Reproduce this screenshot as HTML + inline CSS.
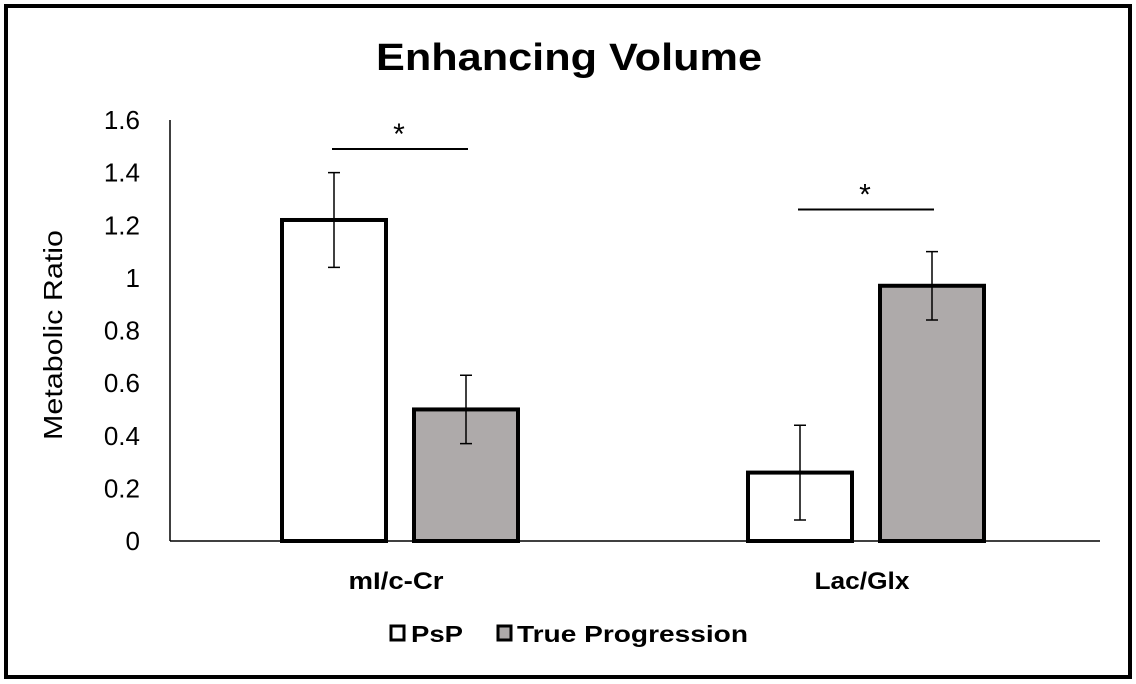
<!DOCTYPE html>
<html><head><meta charset="utf-8"><style>
body{margin:0;background:#fff}
svg{display:block;font-family:"Liberation Sans",Arial,sans-serif}
</style></head><body>
<svg id="chart" width="1136" height="684" viewBox="0 0 1136 684">
<rect x="6" y="6" width="1124" height="671" fill="#fff" stroke="#000" stroke-width="4"/>
<text x="569" y="70" text-anchor="middle" font-size="38" font-weight="bold" textLength="386" lengthAdjust="spacingAndGlyphs">Enhancing Volume</text>
<text transform="translate(62,335) rotate(-90)" text-anchor="middle" font-size="26" textLength="210" lengthAdjust="spacingAndGlyphs">Metabolic Ratio</text>
<g id="yaxis"></g>
<g id="bars"></g>
<g id="legend">
<rect x="391" y="626" width="13" height="14" fill="#fff" stroke="#000" stroke-width="3"/>
<text x="411" y="642" font-size="23" font-weight="bold" textLength="52" lengthAdjust="spacingAndGlyphs">PsP</text>
<rect x="498" y="626" width="13" height="14" fill="#aeaaaa" stroke="#000" stroke-width="3"/>
<text x="517" y="642" font-size="23" font-weight="bold" textLength="231" lengthAdjust="spacingAndGlyphs">True Progression</text>
</g>
</svg>
<script>
const categories=["mI/c-Cr","Lac/Glx"];
const pspValues=[1.22,0.26];
const trueValues=[0.50,0.97];
const pspErr=[0.18,0.18];
const trueErr=[0.13,0.13];
const yTicks=[0,0.2,0.4,0.6,0.8,1,1.2,1.4,1.6];
const sigLevels=[1.49,1.26];
const NS="http://www.w3.org/2000/svg";
const y0=541,y16=120,yMax=1.6;
const y=v=>y0-(v/yMax)*(y0-y16);
const catCenter=i=>400+i*466;
function mk(tag,attrs,parent,text){const e=document.createElementNS(NS,tag);for(const k in attrs)e.setAttribute(k,attrs[k]);if(text!==undefined)e.textContent=text;parent.appendChild(e);return e;}
const ya=document.getElementById('yaxis');
let ax=mk('line',{x1:170,y1:y(yMax),x2:170,y2:y0,stroke:'#000','stroke-width':1.5},ya);


let xa=mk('line',{x1:170,y1:y0,x2:1100,y2:y0,stroke:'#000','stroke-width':1.5},ya);


yTicks.forEach(t=>{const e=mk('text',{x:140,y:y(t)+9,'text-anchor':'end','font-size':26},ya,String(t));

});
const g=document.getElementById('bars');
const bw=104,gap=28;
categories.forEach((c,i)=>{
  const cx=catCenter(i);
  const series=[[pspValues[i],pspErr[i],'#fff',cx-gap/2-bw,'bar-psp'],[trueValues[i],trueErr[i],'#aeaaaa',cx+gap/2,'bar-true-progression']];
  series.forEach(([v,er,col,x,nm])=>{
    const r=mk('rect',{x:x,y:y(v),width:bw,height:y0-y(v),fill:col,stroke:'#000','stroke-width':4},g);
    
    
    const m=x+bw/2;
    const eb=mk('path',{d:`M${m},${y(v+er)}V${y(v-er)}M${m-6},${y(v+er)}H${m+6}M${m-6},${y(v-er)}H${m+6}`,stroke:'#000','stroke-width':1.5,fill:'none'},g);
    
    
  });
  const lab=mk('text',{x:cx-4,y:589,'text-anchor':'middle','font-size':24,'font-weight':'bold',textLength:95,lengthAdjust:'spacingAndGlyphs'},g,c);
  
  
  const ly=y(sigLevels[i]);
  const l=mk('line',{x1:cx-68,y1:ly,x2:cx+68,y2:ly,stroke:'#000','stroke-width':2},g);
  
  
  const s=mk('text',{x:cx-1,y:ly-5,'text-anchor':'middle','font-size':30},g,'*');
  
  
});
</script>
</body></html>
